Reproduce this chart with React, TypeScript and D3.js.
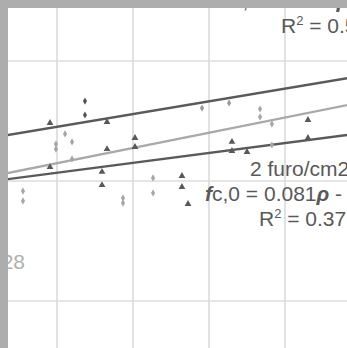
import React from "react";
import * as d3 from "d3";

// density (kg/m3) and fc,0 values
const xTicks = [450, 500, 550, 600];
const yTicks = [0, 50, 100];

const darkDiamondX = [468.4, 468.4, 545.4, 563.2];
const darkDiamondY = [83.3, 77.5, 80.4, 82.5];

const lightDiamondX = [455.3, 459.9, 449.3, 449.3, 459.9, 427.6, 427.6, 493.4, 493.4, 513.2, 513.2, 583.6, 583.6, 591.4, 591.4];
const lightDiamondY = [69.6, 66.3, 65.4, 63.3, 59.2, 45.8, 41.7, 42.9, 40.8, 51.3, 45.0, 80.0, 76.7, 73.8, 65.0];

const triangleX = [445.4, 482.9, 445.4, 482.9, 501.3, 501.3, 479.6, 479.6, 532.2, 532.2, 536.2, 565.1, 565.1, 575.0, 615.1, 615.1];
const triangleY = [74.2, 74.6, 55.8, 63.3, 67.9, 64.2, 53.8, 48.3, 52.1, 47.5, 40.4, 66.3, 62.5, 62.1, 75.4, 67.9];

// trend lines: slope, intercept
const trendNames = ["top", "light", "bottom"];
const trendSlopes = [0.106, 0.127, 0.0825];
const trendIntercepts = [24.9, 0.24, 16.33];
const trendColors = ["#5a5a5a", "#a9a9a9", "#5a5a5a"];
const lineRange = [400, 660];

const W = 347;
const H = 348;
const PL = 8;
const PT = 8;

export default function App() {
  const x = d3.scaleLinear().domain([450, 600]).range([57, 285]);
  const y = d3.scaleLinear().domain([0, 100]).range([301, 61]);
  const line = d3
    .line<[number, number]>()
    .x((d) => x(d[0]))
    .y((d) => y(d[1]));
  const diamond = d3.symbol().type(d3.symbolDiamond).size(15)() as string;
  const tri = d3.symbol().type(d3.symbolTriangle).size(20)() as string;
  const font = "Liberation Sans, Arial, sans-serif";
  const textCol = "#595959";
  const fs = 21;

  return (
    <svg
      width={W}
      height={H}
      style={{ position: "fixed", left: 0, top: 0, display: "block" }}
    >
      <defs>
        <clipPath id="plot">
          <rect x={PL} y={PT} width={W - PL} height={H - PT} />
        </clipPath>
      </defs>
      <rect x={0} y={0} width={W} height={H} fill="#adadad" />
      <rect x={PL} y={PT} width={W - PL} height={H - PT} fill="#ffffff" />
      <g clipPath="url(#plot)">
        {xTicks.map((t) => (
          <line key={"x" + t} x1={x(t)} x2={x(t)} y1={0} y2={H} stroke="#d2d2d2" strokeWidth={1.3} />
        ))}
        {yTicks.map((t) => (
          <line key={"y" + t} x1={0} x2={W} y1={y(t)} y2={y(t)} stroke="#dcdcdc" strokeWidth={1.3} />
        ))}
        {trendNames.map((n, i) => (
          <path
            key={n}
            d={line(lineRange.map((r) => [r, trendSlopes[i] * r + trendIntercepts[i]]) as [number, number][]) || ""}
            fill="none"
            stroke={trendColors[i]}
            strokeWidth={2.4}
          />
        ))}
        {lightDiamondX.map((v, i) => (
          <path key={"ld" + i} d={diamond} transform={`translate(${x(v)},${y(lightDiamondY[i])})`} fill="#a6a6a6" />
        ))}
        {darkDiamondX.map((v, i) => (
          <path
            key={"dd" + i}
            d={diamond}
            transform={`translate(${x(v)},${y(darkDiamondY[i])})`}
            fill={i < 2 ? "#555555" : "#9a9a9a"}
          />
        ))}
        {triangleX.map((v, i) => (
          <path key={"t" + i} d={tri} transform={`translate(${x(v)},${y(triangleY[i])})`} fill="#595959" />
        ))}
        <g fontFamily={font} fontSize={fs} fill={textCol}>
          <text x={225} y={8}>
            <tspan fontStyle="italic" fontWeight="bold">f</tspan>c,0 = 0.106
            <tspan fontStyle="italic" fontWeight="bold">ρ</tspan> + 24.9
          </text>
          <text x={281} y={33}>
            R<tspan fontSize={13} dy={-8}>2</tspan>
            <tspan dy={8}> = 0.52</tspan>
          </text>
          <text x={250} y={176}>2 furo/cm2</text>
          <text x={205} y={201}>
            <tspan fontStyle="italic" fontWeight="bold">f</tspan>c,0 = 0.081
            <tspan fontStyle="italic" fontWeight="bold">ρ</tspan> - 16.3
          </text>
          <text x={259} y={226}>
            R<tspan fontSize={13} dy={-8}>2</tspan>
            <tspan dy={8}> = 0.37</tspan>
          </text>
        </g>
        <text x={25} y={269} textAnchor="end" fontFamily={font} fontSize={fs} fill="#b0b0b0">
          R² = 0.28
        </text>
      </g>
    </svg>
  );
}
